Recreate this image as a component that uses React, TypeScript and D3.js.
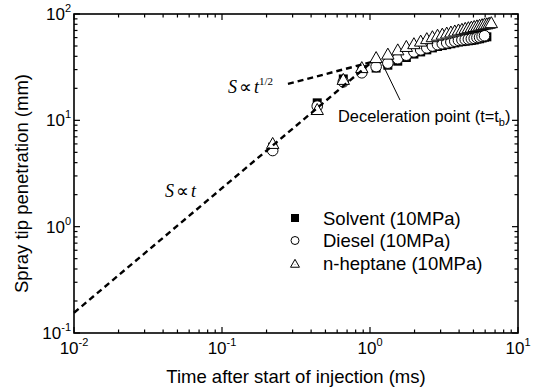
import * as d3 from "d3"

// tiempos de muestreo (ms)
const tiempos = [
  0.22, 0.44, 0.66, 0.88, 1.1, 1.32, 1.54, 1.76, 1.98, 2.2, 2.42, 2.64, 2.86, 3.08, 3.3,
  3.52, 3.74, 3.96, 4.18, 4.4, 4.62, 4.84, 5.06, 5.28, 5.5, 5.72, 5.94, 6.16, 6.38, 6.6,
]

// penetración (mm)
const solvente = [
  5.6, 14.6, 24.5, 30, 31, 33, 36, 39, 42, 44, 46, 48, 49.5, 50.5, 51.5, 52.5, 53.5, 54.5,
  55, 55.5, 56, 56.5, 57, 58, 58.5, 59.5, 60.5, 61,
]
const diesel = [
  5.2, 13.6, 23, 28, 32, 34.5, 38, 41, 44, 46, 48, 50, 51.5, 52.5, 53.5, 54.5, 55.5, 56.5,
  57, 57.5, 58, 58.5, 59, 60, 60.5, 61.5, 62.5,
]
const heptano = [
  6.0, 12.5, 24, 31, 38.5, 41.5, 45.5, 49, 52, 55, 58, 60.5, 62.5, 64, 65.5, 67, 68.5, 70,
  71, 72.5, 73.5, 74.5, 75.5, 76.5, 77.5, 78.5, 79.5, 80, 81, 82,
]

// líneas de tendencia [t, S]
const lineaT = [
  [0.01, 0.155],
  [1.03, 35.4],
]
const lineaRaiz = [
  [0.279, 22],
  [1.03, 35.4],
]

const leyenda = ["Solvent (10MPa)", "Diesel (10MPa)", "n-heptane (10MPa)"]
const decadasX = [0.01, 0.1, 1, 10]
const decadasY = [0.1, 1, 10, 100]

const FUENTE = "'Liberation Sans', Arial, sans-serif"
const SERIF = "'Liberation Serif', 'Times New Roman', serif"

const W = 534
const H = 389
const margin = { top: 14, right: 16, bottom: 56, left: 74 }

function Triangulo({ x, y, s = 1, punto = false }: { x: number; y: number; s?: number; punto?: boolean }) {
  return (
    <g transform={`translate(${x},${y}) scale(${s})`}>
      <path d="M0,-6.5L6.2,4.5L-6.2,4.5Z" fill="white" stroke="black" strokeWidth={1 / s} />
      {punto && <circle r={0.6} cy={0.8} fill="black" />}
    </g>
  )
}

export default function App() {
  const x = d3.scaleLog().domain([0.01, 10]).range([margin.left, W - margin.right])
  const y = d3.scaleLog().domain([0.1, 100]).range([H - margin.bottom, margin.top])
  const [x0, x1] = x.range()
  const [y0, y1] = y.range()

  const menoresX = x.ticks().filter((v) => !decadasX.includes(v))
  const menoresY = y.ticks().filter((v) => !decadasY.includes(v))

  const linea = d3
    .line<number[]>()
    .x((d) => x(d[0]))
    .y((d) => y(d[1]))

  const mayor = 6
  const menor = 3.5

  return (
    <svg width={W} height={H} style={{ position: "absolute", left: 0, top: 0, background: "white" }} fontFamily={FUENTE}>
      <rect width={W} height={H} fill="white" />

      {/* ticks */}
      <g stroke="black" strokeWidth={1.2}>
        {decadasX.map((v) => (
          <g key={"mx" + v}>
            <line x1={x(v)} x2={x(v)} y1={y0} y2={y0 - mayor} />
            <line x1={x(v)} x2={x(v)} y1={y1} y2={y1 + mayor} />
          </g>
        ))}
        {menoresX.map((v) => (
          <g key={"nx" + v}>
            <line x1={x(v)} x2={x(v)} y1={y0} y2={y0 - menor} />
            <line x1={x(v)} x2={x(v)} y1={y1} y2={y1 + menor} />
          </g>
        ))}
        {decadasY.map((v) => (
          <g key={"my" + v}>
            <line x1={x0} x2={x0 + mayor} y1={y(v)} y2={y(v)} />
            <line x1={x1} x2={x1 - mayor} y1={y(v)} y2={y(v)} />
          </g>
        ))}
        {menoresY.map((v) => (
          <g key={"ny" + v}>
            <line x1={x0} x2={x0 + menor} y1={y(v)} y2={y(v)} />
            <line x1={x1} x2={x1 - menor} y1={y(v)} y2={y(v)} />
          </g>
        ))}
      </g>

      {/* marco */}
      <rect x={x0} y={y1} width={x1 - x0} height={y0 - y1} fill="none" stroke="black" strokeWidth={1.6} />

      {/* etiquetas de ejes */}
      {decadasX.map((v) => (
        <text key={"lx" + v} x={x(v)} y={354} textAnchor="middle" fontSize={17}>
          10
          <tspan fontSize={11} dy={-8}>
            {Math.round(Math.log10(v))}
          </tspan>
        </text>
      ))}
      {decadasY.map((v) => (
        <text key={"ly" + v} x={71} y={y(v) + 6} textAnchor="end" fontSize={17}>
          10
          <tspan fontSize={11} dy={-8}>
            {Math.round(Math.log10(v))}
          </tspan>
        </text>
      ))}
      <text x={(x0 + x1) / 2} y={383} textAnchor="middle" fontSize={18.5}>
        Time after start of injection (ms)
      </text>
      <text transform={`translate(28,${(y0 + y1) / 2 + 10}) rotate(-90)`} textAnchor="middle" fontSize={18.5}>
        Spray tip penetration (mm)
      </text>

      {/* datos */}
      {solvente.map((v, i) => (
        <rect key={"s" + i} x={x(tiempos[i]) - 4.5} y={y(v) - 4.5} width={9} height={9} fill="black" />
      ))}
      {diesel.map((v, i) => (
        <circle key={"d" + i} cx={x(tiempos[i])} cy={y(v)} r={5.3} fill="white" stroke="black" strokeWidth={1} />
      ))}
      {heptano.map((v, i) => (
        <Triangulo key={"h" + i} x={x(tiempos[i])} y={y(v)} />
      ))}

      {/* tendencias */}
      <g fill="none" stroke="black" strokeWidth={2.4} strokeDasharray="6,4">
        <path d={linea(lineaT) ?? ""} />
        <path d={linea(lineaRaiz) ?? ""} />
      </g>

      {/* anotaciones */}
      <text x={228} y={93} fontFamily={SERIF} fontSize={18}>
        <tspan fontStyle="italic">S</tspan>
        <tspan dx={2}>∝</tspan>
        <tspan fontStyle="italic" dx={2}>t</tspan>
        <tspan fontSize={11} dy={-8}>1/2</tspan>
      </text>
      <text x={165} y={197} fontFamily={SERIF} fontSize={18}>
        <tspan fontStyle="italic">S</tspan>
        <tspan dx={2}>∝</tspan>
        <tspan fontStyle="italic" dx={2}>t</tspan>
      </text>
      <line x1={383} y1={65} x2={400} y2={100} stroke="black" strokeWidth={1} />
      <text x={338} y={122} fontSize={16.4}>
        Deceleration point (t=t
        <tspan fontSize={11} dy={4}>b</tspan>
        <tspan dy={-4}>)</tspan>
      </text>

      {/* leyenda */}
      {leyenda.map((nombre, i) => {
        const cy = 218 + i * 22.5
        return (
          <g key={nombre}>
            {i === 0 && <rect x={291} y={cy - 4} width={8} height={8} fill="black" />}
            {i === 1 && <circle cx={295} cy={cy} r={4} fill="white" stroke="black" />}
            {i === 2 && <Triangulo x={295} y={cy + 1} s={0.72} punto />}
            <text x={323} y={cy + 6.5} fontSize={18.5}>
              {nombre}
            </text>
          </g>
        )
      })}
    </svg>
  )
}
